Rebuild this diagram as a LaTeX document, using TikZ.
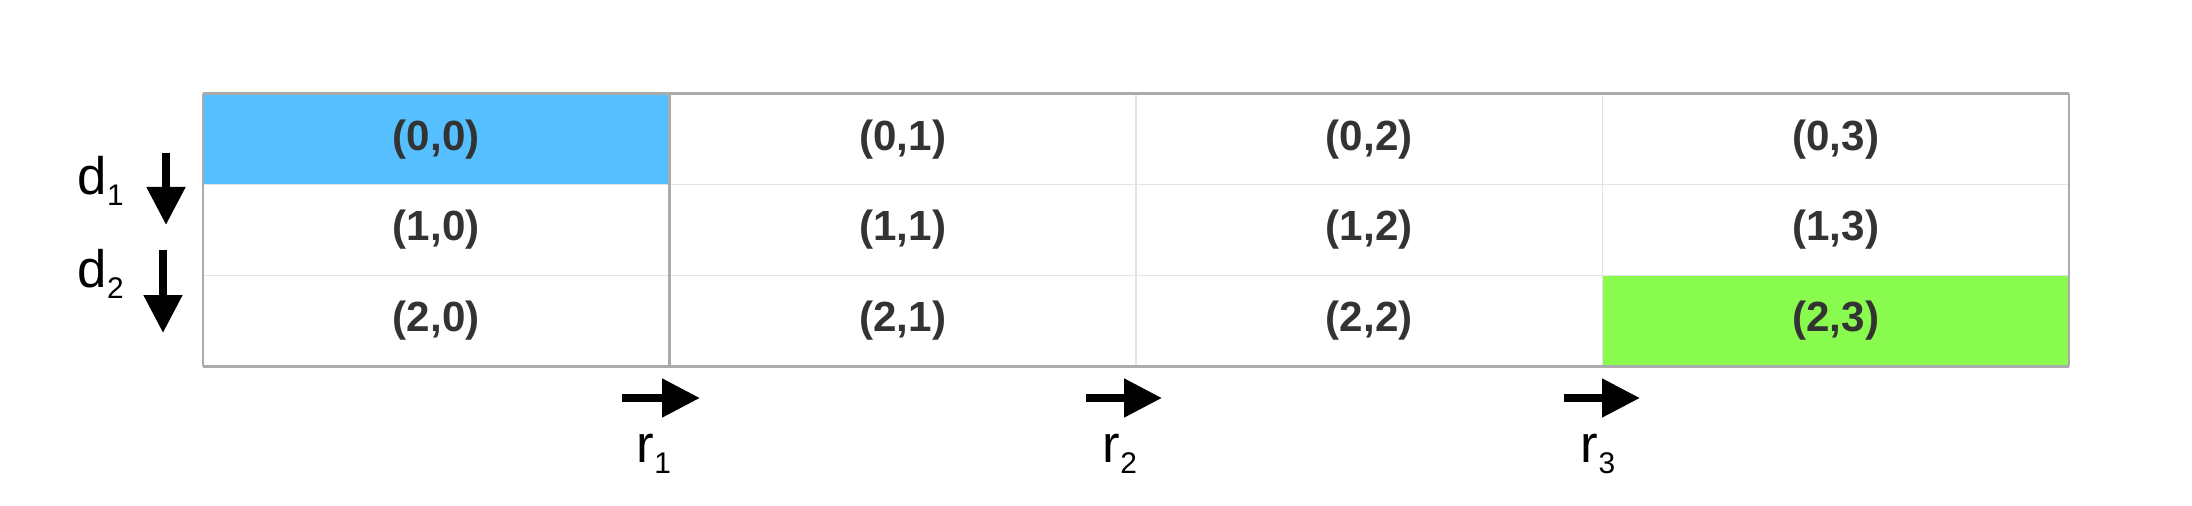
\documentclass[tikz,border=0pt]{standalone}
\usepackage{fontspec}
\setmainfont{Liberation Sans}
\usetikzlibrary{arrows.meta}
\definecolor{cellblue}{HTML}{56BFFF}
\definecolor{cellgreen}{HTML}{89FA4E}
\definecolor{framegray}{HTML}{ABABAB}
\definecolor{linegray}{HTML}{E3E3E3}
\definecolor{textgray}{HTML}{333333}
\newcommand{\idx}[2]{#1\raisebox{-0.11cm}{\fontsize{8.5}{8.5}\selectfont #2}}
\tikzset{
  cell/.style={rectangle, draw=linegray, line width=0.4pt, outer sep=0pt, inner sep=0pt,
    minimum width=4.665cm, minimum height=0.907cm,
    font=\fontsize{12}{12}\selectfont\bfseries, text=textgray},
  hl00/.style={fill=cellblue},
  hl23/.style={fill=cellgreen},
  lab/.style={font=\fontsize{15}{15}\selectfont, inner sep=0pt},
  move/.style={line width=0.08cm, -{Triangle[length=0.38cm,width=0.37cm]}}
}
\begin{document}
\begin{tikzpicture}[x=1cm,y=1cm]
\useasboundingbox (0,0) rectangle (21.92,5.05);
\foreach \r in {0,1,2}
  \foreach \c in {0,...,3}
    \node[cell, hl\r\c/.try](c\r\c) at ({2.03+4.665*(\c+0.5)},{4.11-0.907*(\r+0.5)}) {(\r,\c)};

\draw[framegray, line width=0.03cm] (c00.north west) -- (c03.north east);
\draw[framegray, line width=0.03cm] (c20.south west) -- (c23.south east);
\draw[framegray, line width=0.5pt] (c00.north west) -- (c20.south west);
\draw[framegray, line width=0.5pt] (c03.north east) -- (c23.south east);
\draw[framegray, line width=0.6pt] (c00.north east) -- (c20.south east);

\coordinate (d1s) at (1.66,3.52);
\coordinate (d1e) at (1.66,2.80);
\coordinate (d2s) at (1.63,2.55);
\coordinate (d2e) at (1.63,1.72);
\draw[move] (d1s) -- (d1e);
\draw[move] (d2s) -- (d2e);
\node[lab, anchor=base west](d1) at (0.77,3.10) {\idx{d}{1}};
\node[lab, anchor=base west](d2) at (0.77,2.17) {\idx{d}{2}};

\coordinate (r1s) at (6.22,1.07);
\coordinate (r1e) at (7.00,1.07);
\coordinate (r2s) at (10.86,1.07);
\coordinate (r2e) at (11.62,1.07);
\coordinate (r3s) at (15.64,1.07);
\coordinate (r3e) at (16.40,1.07);
\draw[move] (r1s) -- (r1e);
\draw[move] (r2s) -- (r2e);
\draw[move] (r3s) -- (r3e);
\node[lab, anchor=base](r1) at (6.54,0.43) {\idx{r}{1}};
\node[lab, anchor=base](r2) at (11.20,0.43) {\idx{r}{2}};
\node[lab, anchor=base](r3) at (15.98,0.43) {\idx{r}{3}};
\end{tikzpicture}
\end{document}
